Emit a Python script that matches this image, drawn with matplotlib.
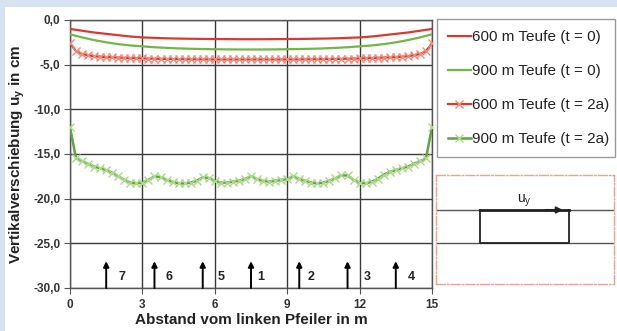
import numpy as np
import matplotlib
matplotlib.use("Agg")
import matplotlib.pyplot as plt
from matplotlib.patches import Rectangle

plt.rcParams['font.family'] = ['Liberation Sans', 'DejaVu Sans']
plt.rcParams['mathtext.fontset'] = 'custom'
plt.rcParams['mathtext.rm'] = 'Liberation Sans'
plt.rcParams['mathtext.bf'] = 'Liberation Sans:bold'

# Abstand vom linken Pfeiler (m)
x_t0 = np.arange(0, 15.01, 0.5)
x_t2 = np.arange(0, 15.01, 0.25)

# Setzung direkt nach Auffahrung (t = 0)
u_600_t0 = [-1.0, -1.2, -1.4, -1.55, -1.7, -1.85, -1.95, -2.0, -2.05, -2.08, -2.1,
            -2.12, -2.13, -2.14, -2.15, -2.15, -2.15, -2.14, -2.13, -2.12, -2.1,
            -2.08, -2.05, -2.0, -1.95, -1.85, -1.7, -1.55, -1.4, -1.2, -1.0]
u_900_t0 = [-1.6, -1.95, -2.25, -2.5, -2.7, -2.85, -2.95, -3.05, -3.12, -3.18, -3.22,
            -3.25, -3.27, -3.29, -3.3, -3.3, -3.3, -3.29, -3.27, -3.25, -3.22,
            -3.18, -3.12, -3.05, -2.95, -2.85, -2.7, -2.5, -2.25, -1.95, -1.6]

# Setzung nach zwei Jahren (t = 2a)
u_600_t2 = [-2.6, -3.5, -3.8, -3.95, -4.05, -4.1, -4.15, -4.18, -4.2, -4.23, -4.25,
            -4.27, -4.3, -4.32, -4.33, -4.35, -4.36, -4.37, -4.38, -4.39, -4.4,
            -4.4, -4.41, -4.41, -4.42, -4.42, -4.42, -4.42, -4.42, -4.42, -4.42,
            -4.42, -4.42, -4.42, -4.42, -4.42, -4.42, -4.41, -4.41, -4.4, -4.4,
            -4.39, -4.38, -4.37, -4.36, -4.35, -4.33, -4.32, -4.3, -4.27, -4.25,
            -4.23, -4.2, -4.18, -4.15, -4.1, -4.05, -3.95, -3.8, -3.5, -2.6]
u_900_t2 = [-12.0, -15.5, -15.8, -16.1, -16.4, -16.6, -16.8, -17.1, -17.5, -17.9, -18.2,
            -18.3, -18.2, -17.9, -17.5, -17.6, -17.9, -18.1, -18.3, -18.3, -18.2,
            -18.0, -17.6, -17.7, -18.0, -18.2, -18.2, -18.1, -18.0, -17.8, -17.5,
            -17.8, -18.0, -18.1, -18.0, -17.9, -17.8, -17.5, -17.8, -18.0, -18.2,
            -18.3, -18.2, -18.0, -17.7, -17.4, -17.4, -17.9, -18.2, -18.3, -18.1,
            -17.8, -17.3, -17.0, -16.8, -16.6, -16.4, -16.1, -15.8, -15.5, -12.0]

# Lage der Pfeiler und Nummern
pfeiler_x = [1.5, 3.5, 5.5, 7.5, 9.5, 11.5, 13.5]
pfeiler_nr = ['7', '6', '5', '1', '2', '3', '4']
nr_x = [2.15, 4.1, 6.25, 7.9, 10.0, 12.3, 14.15]

xticks = [0, 3, 6, 9, 12, 15]
yticks = [0, -5, -10, -15, -20, -25, -30]
ytick_labels = ['0,0', '-5,0', '-10,0', '-15,0', '-20,0', '-25,0', '-30,0']

W, H = 617, 331
fig = plt.figure(figsize=(W / 100, H / 100), dpi=100, facecolor='#d8e3f1')
fig.patches.append(Rectangle((5 / W, 0), 1, 1 - 7 / H, transform=fig.transFigure,
                             facecolor='white', edgecolor='none', zorder=-10))

ax = fig.add_axes([70 / W, 1 - 288 / H, 362 / W, 268 / H])
ax.set_facecolor('white')

red = '#d93a2e'
green = '#74b54a'
ax.plot(x_t0, u_600_t0, color=red, lw=1.6, label='600 m Teufe (t = 0)', zorder=4)
ax.plot(x_t0, u_900_t0, color=green, lw=1.6, label='900 m Teufe (t = 0)', zorder=4)
ax.plot(x_t2, u_600_t2, color=red, lw=1.6, marker='x', ms=6, mew=1.0,
        mec='#f08a7a', label='600 m Teufe (t = 2a)', zorder=4)
ax.plot(x_t2, u_900_t2, color='#62a33e', lw=1.8, marker='x', ms=6, mew=1.0,
        mec='#aed88e', label='900 m Teufe (t = 2a)', zorder=4)

for px, nr, tx in zip(pfeiler_x, pfeiler_nr, nr_x):
    ax.annotate('', xy=(px, -27.0), xytext=(px, -30),
                arrowprops=dict(arrowstyle='-|>', color='black', lw=1.4,
                                mutation_scale=8, shrinkA=0, shrinkB=0))
    ax.text(tx, -28.8, nr, fontsize=9, fontweight='bold', ha='center', va='center',
            color='#222222')

ax.set_xlim(0, 15)
ax.set_ylim(-30, 0)
ax.set_xticks(xticks)
ax.set_yticks(yticks)
ax.set_yticklabels(ytick_labels)
ax.grid(True, color='#3a3a3a', lw=1.0)
ax.set_axisbelow(True)
for s in ax.spines.values():
    s.set_color('#555555')
    s.set_linewidth(1.0)
ax.tick_params(direction='out', length=4, color='#555555', labelsize=8.5,
               labelcolor='#333333', pad=3)
for lab in ax.get_xticklabels() + ax.get_yticklabels():
    lab.set_fontweight('bold')
ax.tick_params(axis='x', pad=4)

ax.set_xlabel('Abstand vom linken Pfeiler in m', fontsize=11, fontweight='bold',
              color='#222222', labelpad=1)
ax.set_ylabel(r'Vertikalverschiebung u$_\mathbf{y}$ in cm', fontsize=11,
              fontweight='bold', color='#222222', labelpad=4)

leg = fig.legend(loc='upper left',
                 bbox_to_anchor=(437 / W, 1 - 157 / H, 178 / W, 138 / H),
                 mode='expand', fontsize=11, frameon=True, fancybox=False,
                 edgecolor='#808080', handlelength=1.5, handletextpad=0.1,
                 labelspacing=1.32, borderpad=0.72, numpoints=1, borderaxespad=0)
leg.get_frame().set_linewidth(1.0)
for t in leg.get_texts():
    t.set_color('#222222')

# Skizze der Verschiebung
ax2 = fig.add_axes([436 / W, 1 - 284 / H, 178 / W, 109 / H])
ax2.set_xlim(0, 178)
ax2.set_ylim(109, 0)
ax2.set_xticks([])
ax2.set_yticks([])
for s in ax2.spines.values():
    s.set_linestyle('-.')
    s.set_color('#e3a595')
    s.set_linewidth(1.0)
ax2.axhline(35, color='#555555', lw=1.0)
ax2.axhline(68, color='#555555', lw=1.0)
ax2.plot([44, 44, 133, 133], [35, 68, 68, 35], color='#222222', lw=1.3)
ax2.plot([44, 133], [35, 35], color='#222222', lw=2.0)
ax2.annotate('', xy=(127, 35), xytext=(110, 35),
             arrowprops=dict(arrowstyle='-|>', color='#222222', lw=1.5,
                             mutation_scale=9, shrinkA=0, shrinkB=0))
ax2.text(88, 34, r'u$_\mathrm{y}$', fontsize=10, ha='center', va='bottom',
         color='#222222')

fig.savefig('out.png', dpi=100, facecolor=fig.get_facecolor())
